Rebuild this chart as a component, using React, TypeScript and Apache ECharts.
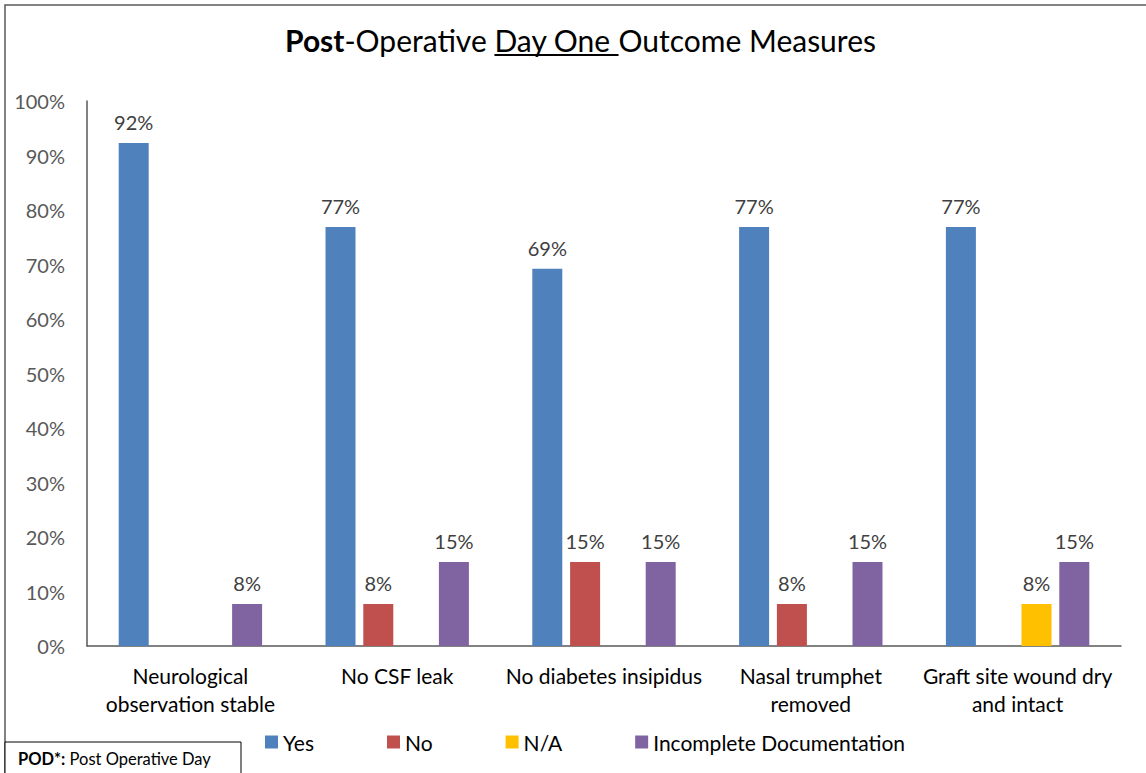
import React, { useEffect, useRef } from "react";
import * as echarts from "echarts";

const categories = [
  "Neurological\nobservation stable",
  "No CSF leak",
  "No diabetes insipidus",
  "Nasal trumphet\nremoved",
  "Graft site wound dry\nand intact",
];
const seriesNames = ["Yes", "No", "N/A", "Incomplete Documentation"];
const yesValues = [92.3, 76.9, 69.2, 76.9, 76.9];
const noValues = [null, 7.7, 15.4, 7.7, null];
const naValues = [null, null, null, null, 7.7];
const incompleteValues = [7.7, 15.4, 15.4, 15.4, 15.4];
const seriesColors = ["#4F81BD", "#C0504D", "#FFC000", "#8064A2"];
const titleParts = [
  { text: "Post", bold: true, underline: false },
  { text: "-Operative ", bold: false, underline: false },
  { text: "Day One ", bold: false, underline: true },
  { text: "Outcome Measures", bold: false, underline: false },
];

const FONT = "Lato, 'Noto Sans', sans-serif";

export default function App() {
  const ref = useRef<HTMLDivElement>(null);
  useEffect(() => {
    if (!ref.current) return;
    const chart = echarts.init(ref.current, undefined, { renderer: "svg" });

    const titleSize = 30;
    const titleY = 40;
    const titleCenter = 580.5;
    const canvas = document.createElement("canvas");
    const ctx = canvas.getContext("2d") as CanvasRenderingContext2D;
    const widths = titleParts.map((p) => {
      ctx.font = `${p.bold ? "bold " : ""}${titleSize}px ${FONT}`;
      return ctx.measureText(p.text).width;
    });
    const total = widths.reduce((a, b) => a + b, 0);
    let cx = titleCenter - total / 2;
    const titleEls: any[] = [];
    titleParts.forEach((p, i) => {
      titleEls.push({
        type: "text",
        x: cx,
        y: titleY,
        style: {
          text: p.text,
          font: `${p.bold ? "bold " : ""}${titleSize}px ${FONT}`,
          fill: "#000",
          align: "left",
          verticalAlign: "middle",
          textAlign: "left",
          textVerticalAlign: "middle",
        },
      });
      if (p.underline) {
        titleEls.push({
          type: "line",
          shape: { x1: cx, y1: titleY + 15, x2: cx + widths[i], y2: titleY + 15 },
          style: { stroke: "#000", lineWidth: 2 },
        });
      }
      cx += widths[i];
    });

    const dataSets = [yesValues, noValues, naValues, incompleteValues];

    chart.setOption({
      animation: false,
      backgroundColor: "#fff",
      grid: { left: 87, right: 25, top: 101, bottom: 127, containLabel: false },
      legend: {
        data: seriesNames,
        left: 260,
        top: 725,
        icon: "rect",
        itemWidth: 13,
        itemHeight: 13,
        itemGap: 73,
        textStyle: { fontSize: 21, color: "#000", fontFamily: FONT, lineHeight: 24 },
      },
      xAxis: {
        type: "category",
        data: categories,
        axisLine: { show: true, lineStyle: { color: "#595959", width: 1.5 } },
        axisTick: { show: false },
        axisLabel: {
          interval: 0,
          margin: 15,
          fontSize: 21,
          lineHeight: 28,
          color: "#000",
          fontFamily: FONT,
        },
      },
      yAxis: {
        type: "value",
        min: 0,
        max: 100,
        interval: 10,
        axisLine: { show: true, lineStyle: { color: "#595959", width: 1.5 } },
        axisTick: { show: false },
        splitLine: { show: false },
        axisLabel: {
          formatter: "{value}%",
          margin: 22,
          fontSize: 20,
          color: "#595959",
          fontFamily: FONT,
        },
      },
      series: seriesNames.map((name, i) => ({
        name,
        type: "bar",
        data: dataSets[i],
        barWidth: 30,
        barGap: "26%",
        itemStyle: { color: seriesColors[i] },
        label: {
          show: true,
          position: "top",
          distance: 11,
          fontSize: 20,
          color: "#404040",
          fontFamily: FONT,
          formatter: (p: any) => (p.value == null ? "" : Math.round(p.value) + "%"),
        },
      })),
      graphic: [
        {
          type: "rect",
          shape: { x: 5, y: 5, width: 1160, height: 800 },
          style: { fill: "none", stroke: "#595959", lineWidth: 1.5 },
          silent: true,
        },
        ...titleEls,
        {
          type: "rect",
          shape: { x: 5, y: 742, width: 236, height: 60 },
          style: { fill: "#fff", stroke: "#000", lineWidth: 1 },
        },
        {
          type: "text",
          x: 18,
          y: 759,
          style: {
            text: "{b|POD*:} Post Operative Day",
            rich: {
              b: { fontWeight: "bold", fontSize: 16.5, fontFamily: FONT, fill: "#000" },
            },
            font: `16.5px ${FONT}`,
            fill: "#000",
            verticalAlign: "middle",
            textVerticalAlign: "middle",
          },
        },
      ],
    });
    return () => chart.dispose();
  }, []);
  return (
    <div
      ref={ref}
      style={{ position: "fixed", left: 0, top: 0, width: 1146, height: 773, background: "#fff" }}
    />
  );
}
